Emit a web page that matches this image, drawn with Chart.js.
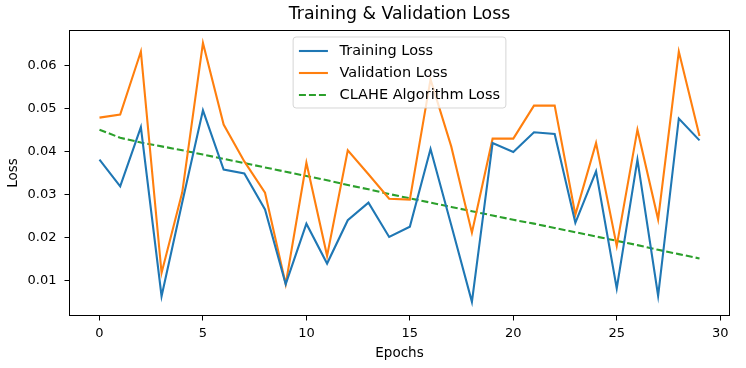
<!DOCTYPE html>
<html>
<head>
<meta charset="utf-8">
<script src="https://cdn.jsdelivr.net/npm/chart.js@4.4.0/dist/chart.umd.min.js"></script>
<style>
    html, body { margin: 0; padding: 0; background: #fff; }
    #wrap { width: 746px; height: 368px; }
</style>
</head>
<body>
<div id="wrap"><canvas id="lossChart" width="746" height="368"></canvas></div>
<script>
// values
const epochs = [0, 1, 2, 3, 4, 5, 6, 7, 8, 9, 10, 11, 12, 13, 14, 15, 16, 17, 18, 19, 20, 21, 22, 23, 24, 25, 26, 27, 28, 29];
const trainLoss = [0.0381, 0.0319, 0.0457, 0.0063, 0.0282, 0.0496, 0.0358, 0.0349, 0.0265, 0.0091,
                   0.0232, 0.0139, 0.0240, 0.0281, 0.0201, 0.0225, 0.0406, 0.0229, 0.0050, 0.0420,
                   0.0399, 0.0445, 0.0441, 0.0234, 0.0354, 0.0081, 0.0381, 0.0064, 0.0477, 0.0426];
const valLoss = [0.0479, 0.0486, 0.0633, 0.0117, 0.0305, 0.0653, 0.0463, 0.0377, 0.0304, 0.0091,
                 0.0374, 0.0157, 0.0403, 0.0347, 0.0290, 0.0288, 0.0568, 0.0412, 0.0211, 0.0430,
                 0.0430, 0.0507, 0.0507, 0.0253, 0.0420, 0.0180, 0.0451, 0.0242, 0.0633, 0.0436];
const claheLoss = [0.0451, 0.0432, 0.0421, 0.0412, 0.0403, 0.0393, 0.0383, 0.0373, 0.0363, 0.0353,
                   0.0343, 0.0333, 0.0322, 0.0312, 0.0301, 0.0291, 0.0281, 0.0271, 0.0261, 0.0251,
                   0.0241, 0.0232, 0.0222, 0.0212, 0.0202, 0.0192, 0.0182, 0.0171, 0.0161, 0.0151];
const xTicks = [0, 5, 10, 15, 20, 25, 30];
const yTicks = [0.01, 0.02, 0.03, 0.04, 0.05, 0.06];
const chartTitle = 'Training & Validation Loss';

const FONT = 'DejaVu Sans';
Chart.defaults.font.family = FONT;
Chart.defaults.color = '#000';

const toPoints = arr => arr.map((v, i) => ({ x: epochs[i], y: v }));

// matplotlib-style frame round the plot area, plus the title centred over the axes
const frameBox = {
    id: 'frameBox',
    afterDraw(chart) {
        const { ctx, chartArea: a } = chart;
        ctx.save();
        ctx.strokeStyle = '#000';
        ctx.lineWidth = 1;
        ctx.strokeRect(a.left, a.top, a.right - a.left, a.bottom - a.top);
        ctx.font = `17.3px ${FONT}`;
        ctx.fillStyle = '#000';
        ctx.textAlign = 'center';
        ctx.textBaseline = 'middle';
        ctx.fillText(chartTitle, (a.left + a.right) / 2, 14.5);
        ctx.restore();
    }
};

// legend box inside the plot, upper center
const legendBox = {
    id: 'legendBox',
    afterDatasetsDraw(chart) {
        const { ctx, chartArea: a } = chart;
        const em = 14.5;
        ctx.save();
        ctx.font = `${em}px ${FONT}`;
        const sets = chart.data.datasets;
        const textW = Math.max(...sets.map(d => ctx.measureText(d.label).width));
        const w = em * 0.4 * 2 + em * 2 + em * 0.8 + textW;
        const h = 71;
        const x = (a.left + a.right) / 2 - w / 2;
        const y = a.top + 6.5;

        ctx.beginPath();
        ctx.roundRect(x, y, w, h, 3);
        ctx.fillStyle = 'rgba(255,255,255,0.8)';
        ctx.fill();
        ctx.strokeStyle = 'rgba(204,204,204,0.8)';
        ctx.lineWidth = 1;
        ctx.stroke();

        sets.forEach((d, i) => {
            const cy = y + 14 + i * 22;
            const lx = x + em * 0.4;
            ctx.beginPath();
            ctx.setLineDash(d.borderDash || []);
            ctx.strokeStyle = d.borderColor;
            ctx.lineWidth = d.borderWidth;
            ctx.moveTo(lx, cy);
            ctx.lineTo(lx + em * 2, cy);
            ctx.stroke();
            ctx.setLineDash([]);
            ctx.fillStyle = '#000';
            ctx.textBaseline = 'middle';
            ctx.textAlign = 'left';
            ctx.fillText(d.label, lx + em * 2 + em * 0.8, cy);
        });
        ctx.restore();
    }
};

new Chart(document.getElementById('lossChart'), {
    type: 'line',
    data: {
        datasets: [
            { label: 'Training Loss', data: toPoints(trainLoss), borderColor: '#1f77b4', borderWidth: 2.1 },
            { label: 'Validation Loss', data: toPoints(valLoss), borderColor: '#ff7f0e', borderWidth: 2.1 },
            { label: 'CLAHE Algorithm Loss', data: toPoints(claheLoss), borderColor: '#2ca02c', borderWidth: 2.1, borderDash: [7, 3] }
        ]
    },
    options: {
        responsive: false,
        animation: false,
        layout: { padding: { left: 0, right: 16.5, top: 30.5, bottom: 0 } },
        elements: { point: { radius: 0 }, line: { tension: 0, fill: false } },
        plugins: {
            legend: { display: false },
            tooltip: { enabled: false },
            title: { display: false }
        },
        scales: {
            x: {
                type: 'linear',
                min: -1.45,
                max: 30.45,
                afterFit: s => { s.height = 52.5; },
                afterBuildTicks: s => { s.ticks = xTicks.map(v => ({ value: v })); },
                grid: { drawOnChartArea: false, drawTicks: true, tickLength: 5, color: '#000' },
                border: { display: false },
                ticks: { font: { size: 13 }, color: '#000', padding: 5, maxRotation: 0, callback: v => String(v) },
                title: { display: true, text: 'Epochs', font: { size: 13.5 }, color: '#000', padding: { top: 0, bottom: 6.5 } }
            },
            y: {
                type: 'linear',
                min: 0.0018,
                max: 0.0682,
                afterFit: s => { s.width = 69.5; },
                afterBuildTicks: s => { s.ticks = yTicks.map(v => ({ value: v })); },
                grid: { drawOnChartArea: false, drawTicks: true, tickLength: 5, color: '#000' },
                border: { display: false },
                ticks: { font: { size: 13 }, color: '#000', padding: 8, callback: v => v.toFixed(2) },
                title: { display: true, text: 'Loss', font: { size: 13.5 }, color: '#000', padding: { top: 5, bottom: 0 } }
            }
        }
    },
    plugins: [legendBox, frameBox]
});
</script>
</body>
</html>
